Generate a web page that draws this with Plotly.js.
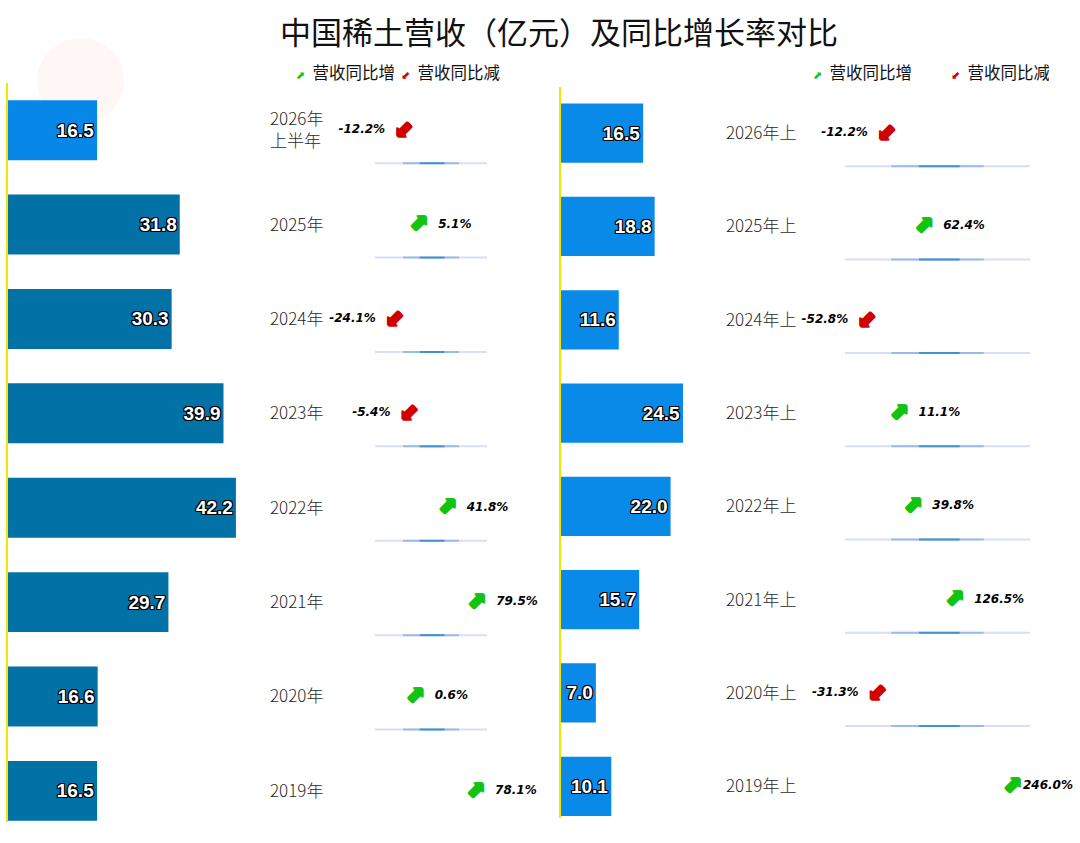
<!DOCTYPE html>
<html>
<head>
<meta charset="utf-8">
<script src="https://cdn.plot.ly/plotly-3.0.1.min.js"></script>
<style>
html,body{margin:0;padding:0;background:#fff;overflow:hidden;}
#chart{width:1080px;height:843px;}
</style>
</head>
<body>
<div id="chart"></div>
<script>
// ---- data ----
const leftCats = ['2026年<br>上半年','2025年','2024年','2023年','2022年','2021年','2020年','2019年'];
const leftRevenue = [16.5, 31.8, 30.3, 39.9, 42.2, 29.7, 16.6, 16.5];
const leftGrowth = [-12.2, 5.1, -24.1, -5.4, 41.8, 79.5, 0.6, 78.1];

const rightCats = ['2026年上','2025年上','2024年上','2023年上','2022年上','2021年上','2020年上','2019年上'];
const rightRevenue = [16.5, 18.8, 11.6, 24.5, 22.0, 15.7, 7.0, 10.1];
const rightGrowth = [-12.2, 62.4, -52.8, 11.1, 39.8, 126.5, -31.3, 246.0];

const titleText = '中国稀土营收（亿元）及同比增长率对比';
const upName = '营收同比增';
const downName = '营收同比减';

// ---- styles ----
const W = 1080, H = 843;
const CJK = '"Noto Sans CJK SC", "Noto Sans", sans-serif';
const LABELFONT = '"Noto Sans CJK SC", sans-serif';
const UP = '#12c412', DOWN = '#d00000';
const outline = '1px 1px 0 #000, -1px -1px 0 #000, 1px -1px 0 #000, -1px 1px 0 #000, 0 1px 0 #000, 0 -1px 0 #000, 1px 0 0 #000, -1px 0 0 #000';
function thick(c){ return '1px 0 0 '+c+', -1px 0 0 '+c+', 0 1px 0 '+c+', 0 -1px 0 '+c+', 1px 1px 0 '+c+', -1px -1px 0 '+c; }

function pct(v){ return v.toFixed(1) + '%'; }
function pick(arr, gr, up){ return arr.filter((_, i) => up ? gr[i] >= 0 : gr[i] < 0); }

const px = v => v / W;
const py = v => 1 - v / H;

// growth-axis geometry (pixel domain and data range) for each panel
const leftGrowthAxis = {d0: 8, d1: 540, r0: -521, r1: 161};
const rightGrowthAxis = {d0: 561, d1: 1080, r0: -689.6, r1: 387};

function panel(cats, rev, gr, barColors, xa, ya, xs, ys, legendId, padEntry, gAx){
  const traces = [];
  traces.push({
    type:'bar', orientation:'h', x: rev, y: cats, xaxis: xa, yaxis: ya,
    marker:{color: barColors, line:{width:0}},
    width: 0.635,
    text: rev.map(v => v.toFixed(1)), textposition:'inside', insidetextanchor:'end',
    textangle:0, constraintext:'none',
    insidetextfont:{family:'"Liberation Sans", Arial, sans-serif', size:19, color:'#fff', weight:'bold', shadow: outline},
    hoverinfo:'skip', showlegend:false, cliponaxis:false
  });
  // arrows (up / down)
  [true, false].forEach(up => {
    const c = up ? UP : DOWN;
    traces.push({
      type:'scatter', mode:'text', x: pick(gr, gr, up), y: pick(cats, gr, up), xaxis: xs, yaxis: ys,
      text: pick(gr, gr, up).map(() => up ? '⬈' : '⬋'),
      textposition:'middle center',
      textfont:{family:'"DejaVu Sans", sans-serif', size:23, color: c, weight:'bold', shadow: thick(c)},
      hoverinfo:'skip', showlegend:false, cliponaxis:false
    });
  });
  // percentage labels: keep label inside the page when arrow is near the right edge
  const sizes = gr.map(v => {
    const p = gAx.d0 + (v - gAx.r0) / (gAx.r1 - gAx.r0) * (gAx.d1 - gAx.d0);
    return (v >= 0 && p + 21 + 50 > W - 4) ? 16 : 30;
  });
  traces.push({
    type:'scatter', mode:'markers+text', x: gr, y: cats, xaxis: xs, yaxis: ys,
    marker:{size: sizes, opacity:0},
    text: gr.map(pct),
    textposition: gr.map(v => v >= 0 ? 'middle right' : 'middle left'),
    textfont:{family:'"DejaVu Sans", sans-serif', size:12, color:'#000', weight:'bold', style:'italic'},
    hoverinfo:'skip', showlegend:false, cliponaxis:false
  });
  // legend entries
  traces.push({type:'scatter', mode:'none', x:[null], y:[null], xaxis: xs, yaxis: ys, legend: legendId,
    name:'<span style="color:'+UP+';font-size:11px">⬈</span>&nbsp; '+upName, showlegend:true});
  traces.push({type:'scatter', mode:'none', x:[null], y:[null], xaxis: xs, yaxis: ys, legend: legendId,
    name:'<span style="color:'+DOWN+';font-size:11px">⬋</span>&nbsp; '+downName, showlegend:true});
  if(padEntry){
    traces.push({type:'scatter', mode:'none', x:[null], y:[null], xaxis: xs, yaxis: ys, legend: legendId,
      name:' ', showlegend:true});
  }
  return traces;
}

const leftColors = leftRevenue.map((v,i) => i === 0 ? '#0788e8' : '#0271a6');
const rightColors = rightRevenue.map(() => '#0a8ae8');

const data = [].concat(
  panel(leftCats, leftRevenue, leftGrowth, leftColors, 'x', 'y', 'x3', 'y3', 'legend', true, leftGrowthAxis),
  panel(rightCats, rightRevenue, rightGrowth, rightColors, 'x2', 'y2', 'x4', 'y4', 'legend2', false, rightGrowthAxis)
);

const hiddenX = {showgrid:false, zeroline:false, showticklabels:false, ticks:'', showline:false, fixedrange:true};

// separator lines under rows
const shapes = [];
function seps(cats, yref, x0, x1, off){
  cats.forEach((c, i) => {
    shapes.push({type:'line', xref:'paper', yref: yref, x0: px(x0), x1: px(x1), y0: i + off, y1: i + off,
      line:{color:'rgba(175,190,240,0.5)', width:2}, layer:'below'});
    shapes.push({type:'line', xref:'paper', yref: yref, x0: px(x0 + (x1-x0)*0.25), x1: px(x0 + (x1-x0)*0.75), y0: i + off, y1: i + off,
      line:{color:'rgba(90,150,215,0.5)', width:2}, layer:'below'});
    shapes.push({type:'line', xref:'paper', yref: yref, x0: px(x0 + (x1-x0)*0.4), x1: px(x0 + (x1-x0)*0.62), y0: i + off, y1: i + off,
      line:{color:'rgba(30,130,200,0.7)', width:2}, layer:'below'});
  });
}
seps(leftCats, 'y', 375, 487, 0.35);
seps(rightCats, 'y2', 845, 1030, 0.355);
// faint watermark
shapes.push({type:'circle', xref:'paper', yref:'paper', x0: px(37), x1: px(124), y0: py(124), y1: py(38),
  fillcolor:'rgba(255,140,130,0.07)', line:{width:0}, layer:'below'});

function catAxis(extra){
  return Object.assign({type:'category', categoryorder:'array', showgrid:false, zeroline:false, ticks:'', fixedrange:true}, extra);
}

const layout = {
  width: W, height: H,
  margin:{l:0, r:0, t:0, b:0, pad:0, autoexpand:false},
  paper_bgcolor:'#fff', plot_bgcolor:'rgba(0,0,0,0)',
  title:{text: titleText, x: px(559), xanchor:'center', y: py(33), yanchor:'middle',
    font:{family: CJK, size:31, color:'#111'}},
  showlegend:true,
  legend:{orientation:'h', x: px(256), xanchor:'left', y: py(73), yanchor:'middle',
    font:{family: CJK, size:16.5, color:'#111'}, bgcolor:'rgba(0,0,0,0)', itemwidth:30, entrywidth:60, traceorder:'normal'},
  legend2:{orientation:'h', x: px(773), xanchor:'left', y: py(73), yanchor:'middle',
    font:{family: CJK, size:16.5, color:'#111'}, bgcolor:'rgba(0,0,0,0)', itemwidth:30, entrywidth:93, traceorder:'normal'},
  xaxis: Object.assign({domain:[px(8), px(540)], range:[0, 98.5], anchor:'y'}, hiddenX),
  xaxis2: Object.assign({domain:[px(561), 1], range:[0, 104.2], anchor:'y2'}, hiddenX),
  xaxis3: Object.assign({domain:[px(leftGrowthAxis.d0), px(leftGrowthAxis.d1)], range:[leftGrowthAxis.r0, leftGrowthAxis.r1], anchor:'y3', overlaying:'x'}, hiddenX),
  xaxis4: Object.assign({domain:[px(rightGrowthAxis.d0), px(rightGrowthAxis.d1)], range:[rightGrowthAxis.r0, rightGrowthAxis.r1], anchor:'y4', overlaying:'x2'}, hiddenX),
  yaxis: catAxis({domain:[py(822), py(83)], range:[7.33, -0.5], anchor:'x', categoryarray: leftCats,
    showline:true, linecolor:'#f2e600', linewidth:2, showticklabels:false}),
  yaxis2: catAxis({domain:[py(818), py(86.5)], range:[7.34, -0.5], anchor:'x2', categoryarray: rightCats,
    showline:true, linecolor:'#f2e600', linewidth:2, showticklabels:false}),
  yaxis3: catAxis({overlaying:'y', anchor:'free', position: px(269), side:'right', range:[7.33, -0.5], categoryarray: leftCats,
    showline:false, tickfont:{family: LABELFONT, size:17, color:'#2a2a2a', weight:300}}),
  yaxis4: catAxis({overlaying:'y2', anchor:'free', position: px(725), side:'right', range:[7.34, -0.5], categoryarray: rightCats,
    showline:false, tickfont:{family: LABELFONT, size:17, color:'#2a2a2a', weight:300}}),
  shapes: shapes,
  bargap:0.3
};

Plotly.newPlot('chart', data, layout, {displayModeBar:false, staticPlot:true});
</script>
</body>
</html>
